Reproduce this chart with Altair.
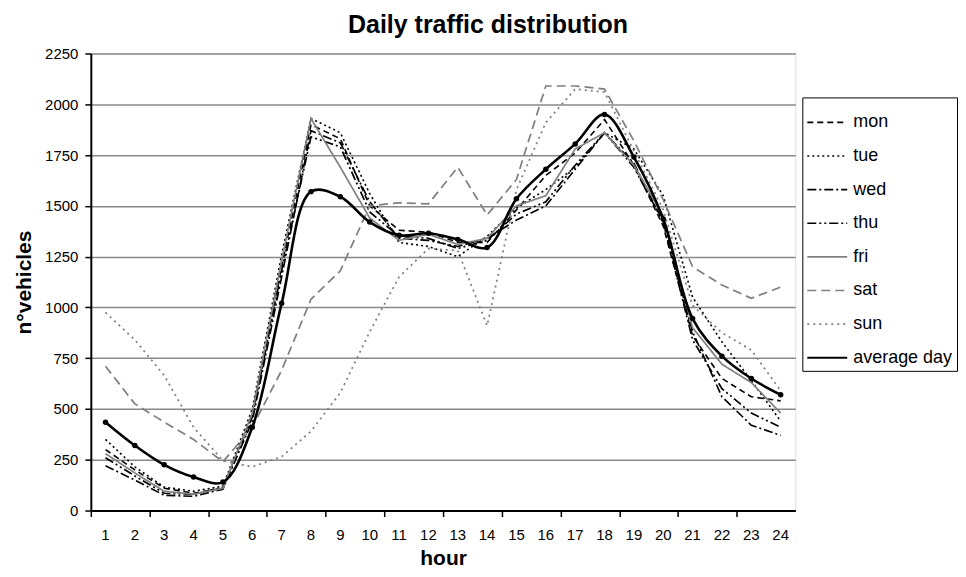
import altair as alt
import pandas as pd

hours = list(range(1, 25))
hour_labels = [str(h) for h in hours]
series_names = ["mon", "tue", "wed", "thu", "fri", "sat", "sun", "average day"]

mon = [300, 200, 110, 85, 110, 470, 1200, 1900, 1830, 1500, 1380, 1370, 1320, 1320, 1480, 1650, 1760, 1925, 1700, 1400, 860, 650, 560, 540]
tue = [350, 215, 115, 95, 120, 500, 1260, 1930, 1860, 1560, 1320, 1300, 1250, 1350, 1490, 1580, 1690, 1860, 1780, 1550, 1050, 830, 640, 440]
wed = [220, 150, 75, 70, 105, 440, 1150, 1870, 1810, 1520, 1340, 1330, 1300, 1340, 1430, 1500, 1680, 1860, 1710, 1420, 880, 560, 420, 370]
thu = [260, 170, 85, 80, 115, 460, 1180, 1840, 1790, 1470, 1350, 1340, 1290, 1330, 1460, 1520, 1700, 1860, 1690, 1420, 840, 600, 480, 410]
fri = [280, 185, 95, 80, 110, 480, 1230, 1930, 1690, 1440, 1330, 1360, 1310, 1340, 1500, 1550, 1780, 1860, 1700, 1450, 900, 720, 630, 480]
sat = [710, 525, 435, 350, 240, 410, 690, 1040, 1180, 1500, 1515, 1510, 1690, 1455, 1630, 2090, 2090, 2075, 1820, 1530, 1200, 1110, 1045, 1100]
sun = [975, 840, 665, 410, 245, 215, 265, 390, 580, 880, 1150, 1290, 1280, 910, 1580, 1910, 2075, 2060, 1770, 1480, 1010, 875, 790, 590]
avg = [435, 320, 225, 165, 140, 410, 1020, 1570, 1545, 1420, 1355, 1365, 1335, 1295, 1535, 1680, 1805, 1950, 1740, 1435, 945, 760, 650, 570]

y_ticks = [0, 250, 500, 750, 1000, 1250, 1500, 1750, 2000, 2250]

series_values = [mon, tue, wed, thu, fri, sat, sun, avg]
rows = []
for name, vals in zip(series_names, series_values):
    for h, v in zip(hours, vals):
        rows.append({"hour": h, "vehicles": v, "series": name})
df = pd.DataFrame(rows)
df_avg = df[df["series"] == "average day"]
df_days = df[df["series"] != "average day"]
df_labels = pd.DataFrame({"hour": hours, "label": hour_labels})

colors = ["#000000", "#000000", "#000000", "#000000", "#808080", "#808080", "#808080", "#000000"]
dashes = [[6, 4], [2, 3], [9, 3, 2, 3], [9, 3, 2, 3, 2, 3], [1, 0], [9, 5], [2, 4], [1, 0]]
widths = [1.6, 1.8, 1.8, 1.8, 1.3, 2.2, 2.2, 2.6]

W = 706
H = 458
half_band = W / 24 / 2
FONT = "Liberation Sans"

x_enc = alt.X(
    "hour:Q",
    scale=alt.Scale(domain=[0.5, 24.5], nice=False, zero=False),
    axis=alt.Axis(
        values=hours, title="hour", grid=False, tickSize=6, tickOffset=-half_band,
        labels=False,
        titleFontSize=21, titleFont=FONT, titleFontWeight="bold", titlePadding=30,
        domainColor="#000000", domainWidth=2, tickColor="#000000", tickWidth=1.5,
        titleColor="#000000",
    ),
)
y_enc = alt.Y(
    "vehicles:Q",
    scale=alt.Scale(domain=[0, 2250], nice=False),
    axis=alt.Axis(
        values=y_ticks, title="n°vehicles", grid=True, gridColor="#888888", gridWidth=1.5,
        tickSize=6, labelPadding=7, labelFontSize=15, labelFont=FONT, format="d",
        titleFontSize=21, titleFont=FONT, titleFontWeight="bold", titlePadding=10,
        domainColor="#000000", domainWidth=2, tickColor="#000000", tickWidth=1.5,
        labelColor="#000000", titleColor="#000000",
    ),
)

lines = alt.Chart(df_days).mark_line().encode(
    x=x_enc,
    y=y_enc,
    color=alt.Color("series:N", scale=alt.Scale(domain=series_names, range=colors),
                    legend=alt.Legend(title=None, orient="none", legendX=713, legendY=44,
                                      symbolType="stroke", symbolSize=1600, labelFontSize=18,
                                      labelFont=FONT, labelColor="#000000",
                                      strokeColor="#000000", fillColor="#ffffff",
                                      padding=4, rowPadding=3.7, labelOffset=5,
                                      values=series_names)),
    strokeDash=alt.StrokeDash("series:N", scale=alt.Scale(domain=series_names, range=dashes), legend=None),
    strokeWidth=alt.StrokeWidth("series:N", scale=alt.Scale(domain=series_names, range=widths), legend=None),
    detail="series:N",
)

avg_line = alt.Chart(df_avg).mark_line(interpolate="catmull-rom", color="#000000", strokeWidth=2.6).encode(
    x="hour:Q", y="vehicles:Q"
)
avg_pts = alt.Chart(df_avg).mark_point(filled=True, color="#000000", size=30, opacity=1).encode(
    x="hour:Q", y="vehicles:Q"
)
x_labels = alt.Chart(df_labels).mark_text(fontSize=15, font=FONT, color="#000000",
                                          align="center", baseline="middle").encode(
    x="hour:Q", y=alt.value(H + 25), text="label:N"
)

chart = alt.layer(lines, avg_line, avg_pts, x_labels).properties(
    width=W, height=H,
    padding={"left": 5, "top": 4, "right": 0, "bottom": 5},
    title=alt.TitleParams("Daily traffic distribution", fontSize=25, font=FONT,
                          fontWeight="bold", color="#000000", anchor="middle", dx=45, offset=8.6),
).configure_view(stroke="#000000", strokeWidth=2).configure(background="#ffffff")

chart.save("out.html", embed_options={"renderer": "svg", "actions": False})
